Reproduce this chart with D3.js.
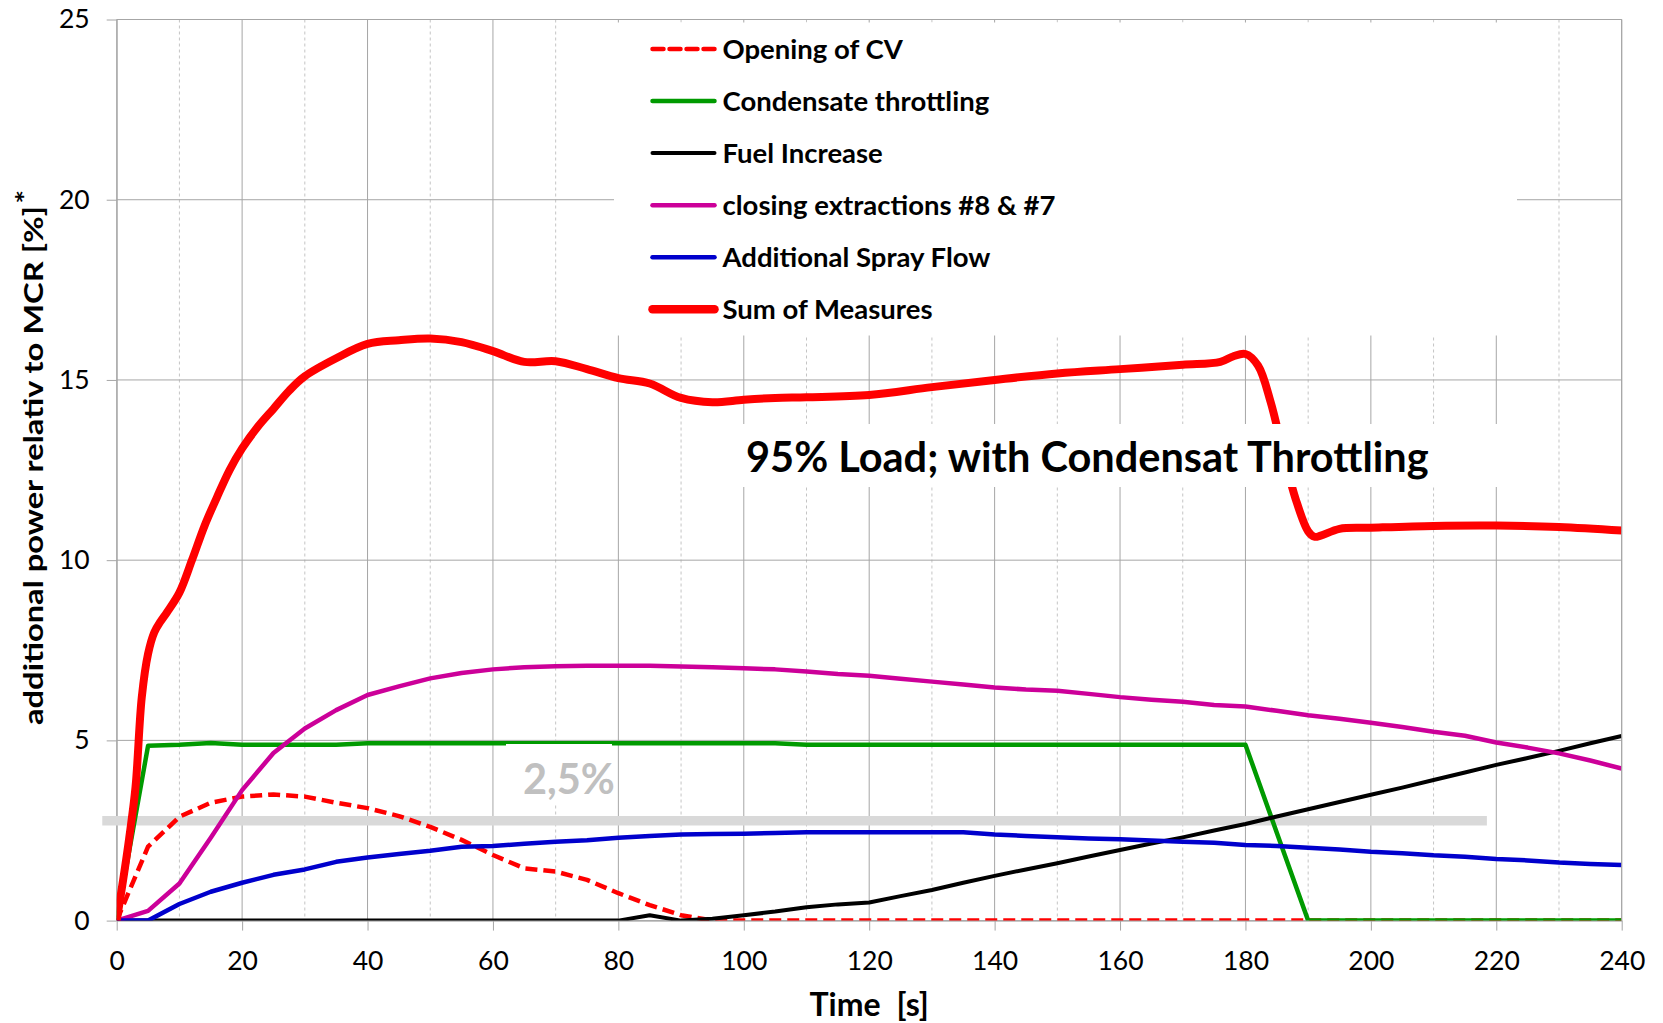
<!DOCTYPE html>
<html>
<head>
<meta charset="utf-8">
<script src="https://cdn.jsdelivr.net/npm/d3@7"></script>
<style>
  body { margin: 0; background: #fff; }
  svg { display: block; font-family: Lato, "Open Sans", sans-serif; }
</style>
</head>
<body>
<div id="chart-root"></div>
<script>
// time axis [s], one sample every 5 s
var timeSteps = [0, 5, 10, 15, 20, 25, 30, 35, 40, 45, 50, 55, 60, 65, 70, 75, 80, 85, 90, 95,
  100, 105, 110, 115, 120, 125, 130, 135, 140, 145, 150, 155, 160, 165, 170, 175, 180, 185, 190, 195,
  200, 205, 210, 215, 220, 225, 230, 235, 240];

// additional power relative to MCR [%]
var openingCV = [0, 2.05, 2.88, 3.27, 3.44, 3.5, 3.44, 3.27, 3.12, 2.9, 2.6, 2.24, 1.82, 1.45, 1.36, 1.13, 0.76, 0.43, 0.15, 0,
  0, 0, 0, 0, 0, 0, 0, 0, 0, 0, 0, 0, 0, 0, 0, 0, 0, 0, 0, 0,
  0, 0, 0, 0, 0, 0, 0, 0, 0];
var condensateThrottling = [0, 4.85, 4.88, 4.93, 4.88, 4.88, 4.88, 4.88, 4.92, 4.92, 4.92, 4.92, 4.92, 4.92, 4.92, 4.92, 4.92, 4.92, 4.92, 4.92,
  4.92, 4.92, 4.88, 4.88, 4.88, 4.88, 4.88, 4.88, 4.88, 4.88, 4.88, 4.88, 4.88, 4.88, 4.88, 4.88, 4.88, 2.44, 0, 0,
  0, 0, 0, 0, 0, 0, 0, 0, 0];
var fuelIncrease = [0, 0, 0, 0, 0, 0, 0, 0, 0, 0, 0, 0, 0, 0, 0, 0, 0, 0.15, 0, 0.05,
  0.15, 0.25, 0.37, 0.45, 0.5, 0.68, 0.85, 1.05, 1.24, 1.42, 1.59, 1.78, 1.96, 2.14, 2.31, 2.5, 2.68, 2.89, 3.09, 3.29,
  3.49, 3.69, 3.9, 4.11, 4.32, 4.51, 4.71, 4.92, 5.12];
var closingExtractions = [0, 0.27, 1.03, 2.3, 3.62, 4.65, 5.33, 5.84, 6.26, 6.5, 6.72, 6.87, 6.97, 7.03, 7.06, 7.07, 7.07, 7.07, 7.05, 7.03,
  7.0, 6.97, 6.91, 6.84, 6.79, 6.71, 6.63, 6.55, 6.47, 6.41, 6.38, 6.29, 6.2, 6.13, 6.07, 5.98, 5.94, 5.82, 5.7, 5.6,
  5.49, 5.37, 5.24, 5.13, 4.94, 4.8, 4.64, 4.44, 4.22];
var sprayFlow = [0, 0, 0.46, 0.8, 1.05, 1.27, 1.42, 1.63, 1.75, 1.85, 1.94, 2.05, 2.07, 2.13, 2.19, 2.23, 2.3, 2.35, 2.39, 2.4,
  2.41, 2.43, 2.45, 2.45, 2.45, 2.45, 2.45, 2.45, 2.39, 2.35, 2.31, 2.28, 2.26, 2.22, 2.19, 2.16, 2.1, 2.07, 2.02, 1.97,
  1.91, 1.87, 1.81, 1.77, 1.71, 1.67, 1.61, 1.57, 1.54];

// the sum is sampled more densely
var sumTime = [0, 1, 2, 3, 4, 5, 6, 7, 8, 10, 12, 14, 16, 18, 20, 22.5, 25, 27.5, 30, 35, 40, 45, 50, 55, 60, 65, 70, 75, 80, 85, 90, 95,
  100, 105, 110, 120, 130, 140, 150, 160, 170, 176, 178, 180, 182, 184, 186, 188, 190, 191, 192, 195,
  200, 210, 220, 230, 240];
var sumMeasures = [0, 1.1, 2.3, 3.7, 6.2, 7.4, 8.0, 8.3, 8.55, 9.1, 10.0, 10.95, 11.75, 12.5, 13.1, 13.7, 14.2, 14.7, 15.1, 15.6, 16.0, 16.1, 16.15, 16.05, 15.8, 15.5, 15.52, 15.3, 15.05, 14.9, 14.5, 14.38,
  14.45, 14.5, 14.52, 14.58, 14.8, 15.0, 15.18, 15.3, 15.42, 15.5, 15.65, 15.72, 15.4, 14.4, 13.0, 11.7, 10.8, 10.65, 10.68, 10.87,
  10.9, 10.95, 10.96, 10.92, 10.82];

var seriesNames = ["Opening of CV", "Condensate throttling", "Fuel Increase",
  "closing extractions #8 & #7", "Additional Spray Flow", "Sum of Measures"];

var xTicks = [0, 20, 40, 60, 80, 100, 120, 140, 160, 180, 200, 220, 240];
var yTicks = [0, 5, 10, 15, 20, 25];

// grey reference band and its label
var bandLabel = "2,5%";
var bandLevel = 2.77, bandFrom = -2.3, bandTo = 218.5;
var annotation = "95% Load; with Condensat Throttling";

(function () {
  var W = 1663, H = 1023;
  var margin = { top: 19.5, left: 116.7, right: 41.3, bottom: 102.4 },
      width  = W - margin.left - margin.right,
      height = H - margin.top - margin.bottom;

  var styles = [
    { color: "#ff0000", width: 4.5, dash: "12,6" },
    { color: "#009a00", width: 4.5, dash: null },
    { color: "#000000", width: 4,   dash: null },
    { color: "#cc0099", width: 4.5, dash: null },
    { color: "#0000cc", width: 4.5, dash: null },
    { color: "#ff0000", width: 8,   dash: null }
  ];
  var gridColor = "#a6a6a6";

  var svg = d3.select("#chart-root")
    .append("svg")
      .attr("width", W)
      .attr("height", H);

  var g = svg.append("g")
      .attr("transform", "translate(" + margin.left + "," + margin.top + ")");

  var x = d3.scaleLinear().domain([0, 240]).range([0, width]);
  var y = d3.scaleLinear().domain([0, 25]).range([height, 0]);

  // grid: dashed minor verticals, solid majors
  g.append("g").selectAll("line")
    .data(d3.range(10, 240, 20))
    .enter().append("line")
      .attr("x1", d => x(d)).attr("x2", d => x(d))
      .attr("y1", 0).attr("y2", height)
      .attr("stroke", "#c4c4c4")
      .attr("stroke-dasharray", "3,3");
  g.append("g").selectAll("line")
    .data(xTicks)
    .enter().append("line")
      .attr("x1", d => x(d)).attr("x2", d => x(d))
      .attr("y1", 0).attr("y2", height)
      .attr("stroke", gridColor);
  g.append("g").selectAll("line")
    .data(yTicks)
    .enter().append("line")
      .attr("x1", 0).attr("x2", width)
      .attr("y1", d => y(d)).attr("y2", d => y(d))
      .attr("stroke", gridColor);

  // axes
  var yAxis = g.append("g")
    .call(d3.axisLeft(y).tickValues(yTicks).tickSize(10).tickSizeOuter(0).tickPadding(17));
  var xAxis = g.append("g")
    .attr("transform", "translate(0," + height + ")")
    .call(d3.axisBottom(x).tickValues(xTicks).tickSize(10).tickSizeOuter(0).tickPadding(21));
  [xAxis, yAxis].forEach(function (a) {
    a.selectAll("path, line").attr("stroke", gridColor);
    a.selectAll("text")
      .attr("font-family", "Lato")
      .attr("font-size", 26.5)
      .attr("fill", "#000");
  });

  // legend background hides the grid behind it
  var legendBox = { x: 614 - margin.left, y: 22.5 - margin.top, w: 903, h: 313 };
  g.append("rect")
    .attr("x", legendBox.x).attr("y", legendBox.y)
    .attr("width", legendBox.w).attr("height", legendBox.h)
    .attr("fill", "#fff");

  // grey band (under the curves)
  g.append("line")
    .attr("x1", x(bandFrom)).attr("x2", x(bandTo))
    .attr("y1", y(bandLevel)).attr("y2", y(bandLevel))
    .attr("stroke", "#d9d9d9")
    .attr("stroke-width", 9.5);

  // curves, clipped to the plot area
  g.append("clipPath").attr("id", "plot-clip")
    .append("rect").attr("width", width).attr("height", height);

  var plot = g.append("g").attr("clip-path", "url(#plot-clip)");

  var line = d3.line()
    .x(d => x(d[0]))
    .y(d => y(d[1]));
  var smooth = d3.line()
    .curve(d3.curveCatmullRom.alpha(0.5))
    .x(d => x(d[0]))
    .y(d => y(d[1]));

  var series = [openingCV, condensateThrottling, fuelIncrease, closingExtractions, sprayFlow];
  series.forEach(function (vals, i) {
    plot.append("path")
      .datum(timeSteps.map((t, j) => [t, vals[j]]))
      .attr("fill", "none")
      .attr("stroke", styles[i].color)
      .attr("stroke-width", styles[i].width)
      .attr("stroke-dasharray", styles[i].dash)
      .attr("stroke-linejoin", "round")
      .attr("d", line);
  });
  plot.append("path")
    .datum(sumTime.map((t, j) => [t, sumMeasures[j]]))
    .attr("fill", "none")
    .attr("stroke", styles[5].color)
    .attr("stroke-width", styles[5].width)
    .attr("stroke-linejoin", "round")
    .attr("d", smooth);

  // legend entries
  var legend = g.append("g")
    .attr("transform", "translate(" + (652.5 - margin.left) + "," + (49 - margin.top) + ")");
  var rows = legend.selectAll("g")
    .data(seriesNames)
    .enter().append("g")
      .attr("transform", (d, i) => "translate(0," + (i * 52.06) + ")");
  rows.append("line")
    .attr("x1", 0).attr("x2", 62)
    .attr("stroke", (d, i) => styles[i].color)
    .attr("stroke-width", (d, i) => i === 5 ? 8.5 : styles[i].width)
    .attr("stroke-dasharray", (d, i) => i === 0 ? "11,6" : styles[i].dash)
    .attr("stroke-linecap", "round");
  rows.append("text")
    .attr("x", 70)
    .attr("y", 9.5)
    .attr("font-size", 27.5)
    .attr("font-weight", "bold")
    .text(d => d);

  // "2,5%" label with its white box
  g.append("rect")
    .attr("x", 506 - margin.left).attr("y", 744 - margin.top)
    .attr("width", 106).attr("height", 60)
    .attr("fill", "#fff");
  g.append("text")
    .attr("x", 523 - margin.left).attr("y", 794 - margin.top)
    .attr("font-size", 41.5)
    .attr("font-weight", "bold")
    .attr("fill", "#c0c0c0")
    .text(bandLabel);

  // load case annotation
  g.append("rect")
    .attr("x", 738 - margin.left).attr("y", 424 - margin.top)
    .attr("width", 782).attr("height", 63)
    .attr("fill", "#fff");
  g.append("text")
    .attr("x", 746 - margin.left).attr("y", 471.5 - margin.top)
    .attr("font-size", 41.5)
    .attr("font-weight", "bold")
    .text(annotation);

  // border top/right
  g.append("line").attr("x1", 0).attr("x2", width).attr("y1", 0).attr("y2", 0).attr("stroke", gridColor);
  g.append("line").attr("x1", width).attr("x2", width).attr("y1", 0).attr("y2", height).attr("stroke", gridColor);

  // axis titles
  var xt = svg.append("text")
    .attr("x", margin.left + width / 2)
    .attr("y", 1016)
    .attr("text-anchor", "middle")
    .attr("font-size", 32)
    .attr("font-weight", "bold");
  xt.append("tspan").text("Time");
  xt.append("tspan").attr("dx", 16).text("[s]");

  var yt = svg.append("text")
    .attr("transform", "translate(43,725) rotate(-90) scale(1.21,1)")
    .attr("font-size", 27)
    .attr("font-weight", "bold");
  yt.append("tspan").text("additional power relativ to MCR [%]");
  yt.append("tspan").attr("dy", -8).attr("dx", 2).text("*");
})();
</script>
</body>
</html>
